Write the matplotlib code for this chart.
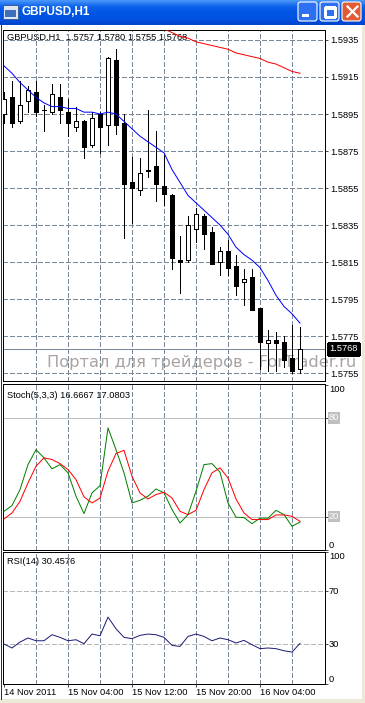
import numpy as np
import matplotlib
matplotlib.use("Agg")
import matplotlib.pyplot as plt
from matplotlib.patches import Rectangle, FancyBboxPatch
from matplotlib.colors import LinearSegmentedColormap

# GBPUSD H1 bars, 14 Nov 2011 20:00 .. 16 Nov 2011 09:00
opens = [1.5895, 1.5904, 1.5891, 1.5902, 1.5907, 1.5897, 1.5896, 1.5904, 1.5896, 1.5888,
         1.5891, 1.5878, 1.5895, 1.5889, 1.5924, 1.5890, 1.5858, 1.5854, 1.5864, 1.5867,
         1.5856, 1.5851, 1.5816, 1.5816, 1.5833, 1.5840, 1.5831, 1.5815, 1.5821, 1.5813,
         1.5804, 1.5807, 1.5790, 1.5771, 1.5773, 1.5772, 1.5763, 1.5757]
highs = [1.5907, 1.5913, 1.5913, 1.5910, 1.5913, 1.5900, 1.5911, 1.5911, 1.5903, 1.5899,
         1.5892, 1.5896, 1.5896, 1.5926, 1.5930, 1.5895, 1.5872, 1.5871, 1.5897, 1.5886,
         1.5873, 1.5852, 1.5829, 1.5840, 1.5844, 1.5841, 1.5834, 1.5823, 1.5827, 1.5819,
         1.5811, 1.5811, 1.5790, 1.5778, 1.5777, 1.5775, 1.5781, 1.5780]
lows = [1.5890, 1.5888, 1.5890, 1.5896, 1.5894, 1.5886, 1.5895, 1.5890, 1.5883, 1.5886,
        1.5871, 1.5877, 1.5874, 1.5878, 1.5884, 1.5828, 1.5836, 1.5851, 1.5861, 1.5848,
        1.5846, 1.5811, 1.5798, 1.5815, 1.5826, 1.5822, 1.5814, 1.5808, 1.5808, 1.5797,
        1.5792, 1.5789, 1.5757, 1.5756, 1.5756, 1.5758, 1.5755, 1.5755]
closes = [1.5903, 1.5890, 1.5900, 1.5908, 1.5896, 1.5897, 1.5906, 1.5897, 1.5890, 1.5891,
          1.5877, 1.5893, 1.5888, 1.5925, 1.5889, 1.5857, 1.5855, 1.5863, 1.5865, 1.5857,
          1.5852, 1.5817, 1.5815, 1.5835, 1.5841, 1.5830, 1.5814, 1.5821, 1.5812, 1.5802,
          1.5806, 1.5789, 1.5772, 1.5773, 1.5771, 1.5762, 1.5756, 1.5768]

ma_fast = [1.5921, 1.5917, 1.5912, 1.5908, 1.5904, 1.5901, 1.5899, 1.5899, 1.5898, 1.5898,
           1.5896, 1.5896, 1.5895, 1.5896, 1.5895, 1.5891, 1.5887, 1.5883, 1.5880, 1.5877,
           1.5874, 1.5865, 1.5858, 1.5851, 1.5847, 1.5843, 1.5839, 1.5835, 1.5830, 1.5823,
           1.5819, 1.5816, 1.5812, 1.5805, 1.5797, 1.5791, 1.5787, 1.5782]
ma_slow_start = 19
ma_slow = [1.5942, 1.5941, 1.5939, 1.5937, 1.5936, 1.5934, 1.5933, 1.5932, 1.5931, 1.5930,
           1.5928, 1.5927, 1.5926, 1.5925, 1.5923, 1.5922, 1.5920, 1.5918, 1.5917]

stoch_main = [23.2, 26.7, 36.4, 51.6, 60.7, 55.7, 49.0, 51.6, 46.6, 32.4,
              21.8, 34.4, 38.8, 73.9, 60.7, 46.6, 28.3, 29.9, 32.4, 36.8,
              34.4, 24.3, 16.1, 21.2, 35.4, 51.6, 52.2, 47.0, 28.3, 19.6,
              19.4, 15.7, 19.1, 19.0, 23.8, 21.2, 14.1, 16.7]
stoch_signal = [18.6, 22.2, 29.3, 40.5, 50.6, 55.7, 54.7, 52.2, 48.6, 42.5,
                32.0, 28.3, 31.3, 47.6, 58.3, 60.3, 44.5, 34.4, 30.7, 33.4,
                34.8, 31.3, 23.2, 21.2, 23.8, 36.4, 46.6, 49.6, 43.5, 30.7,
                22.2, 18.2, 18.2, 18.2, 21.0, 21.0, 20.2, 17.1]
rsi = [30.0, 27.0, 31.5, 34.6, 32.5, 32.5, 37.1, 35.1, 32.5, 33.3,
       30.3, 37.6, 36.3, 50.5, 41.6, 35.1, 34.1, 36.6, 37.6, 37.1,
       35.1, 29.0, 28.2, 35.8, 37.6, 35.8, 32.5, 34.6, 33.3, 30.8,
       32.8, 29.5, 26.5, 27.0, 26.5, 24.9, 23.9, 30.5]

price_ticks = [1.5935, 1.5915, 1.5895, 1.5875, 1.5855, 1.5835, 1.5815, 1.5795, 1.5775, 1.5755]
date_bars = [0, 8, 16, 24, 32]
date_labels = ["14 Nov 2011", "15 Nov 04:00", "15 Nov 12:00", "15 Nov 20:00", "16 Nov 04:00"]
stoch_levels = [80, 20]
rsi_levels = [70, 30]

plt.rcParams["font.family"] = ["Liberation Sans", "DejaVu Sans"]
plt.rcParams["font.size"] = 6.7
plt.rcParams["lines.antialiased"] = False
plt.rcParams["patch.antialiased"] = False

W, H = 365, 703
fig = plt.figure(figsize=(W / 100, H / 100), dpi=100, facecolor="white")
grid_c = "#778899"
LW = 0.5                      # ~1 px, aliased like the terminal
PL = 0.72                     # indicator / MA lines (smoothed, thin)
dash = (0, (5.8, 3))


def box(x0, y0, x1, y1):
    # pixel box, origin top-left
    return [x0 / W, 1 - y1 / H, (x1 - x0) / W, (y1 - y0) / H]


# window chrome + watermark, drawn underneath everything in pixel coords
bg = fig.add_axes([0, 0, 1, 1], zorder=-1)
grad = np.linspace(0, 1, 50).reshape(-1, 1)
xp = LinearSegmentedColormap.from_list("xp", ["#4B98FA", "#0E63EB", "#0056E6", "#0052E0", "#0043CC"])
bg.imshow(grad, extent=[0, W, 25, 0], aspect="auto", cmap=xp, interpolation="bilinear")
bg.set_xlim(0, W)
bg.set_ylim(H, 0)
bg.axis("off")

bg.add_patch(Rectangle((3, 5), 15, 14, fc="#DCE6F4", ec="#3A5F9A", lw=LW))
bg.add_patch(Rectangle((5, 10), 11, 7, fc="#3F6FB8", ec="none"))
bg.text(22, 12, "GBPUSD,H1", color="white", fontsize=8.5, fontweight="bold", va="center")

for bx, fc in [(298, "#2E70F2"), (320, "#2E70F2"), (342, "#E35B35")]:
    bg.add_patch(FancyBboxPatch((bx, 2), 19, 19, boxstyle="round,pad=0,rounding_size=2.5",
                                fc=fc, ec="white", lw=0.8, antialiased=True))
bg.add_patch(Rectangle((302, 14), 7, 3, fc="white", ec="none"))
bg.add_patch(Rectangle((325, 7), 10, 10, fc="none", ec="white", lw=0.8))
bg.add_patch(Rectangle((325, 7), 10, 2.5, fc="white", ec="none"))
bg.plot([347.5, 357.5], [6.5, 16.5], color="white", lw=1.6, antialiased=True)
bg.plot([357.5, 347.5], [6.5, 16.5], color="white", lw=1.6, antialiased=True)

bg.add_patch(Rectangle((362, 25), 3, H - 25, fc="#ECE9D8", ec="none"))
bg.add_patch(Rectangle((0, 699), W, 4, fc="#ECE9D8", ec="none"))
bg.plot([1, 1], [25, 699], color="#303030", lw=LW)

bg.text(7, 37, "GBPUSD,H1  %.4f %.4f %.4f %.4f" % (opens[-1], highs[-1], lows[-1], closes[-1]),
        va="center", color="black")
bg.text(7, 395, "Stoch(5,3,3) 16.6667 17.0803", va="center", color="black")
bg.text(7, 562, "RSI(14) 30.4576", va="center", color="black")
bg.text(47, 362, "Портал для трейдеров - ForTrader.ru", fontsize=11.7, color="#ABA2A2",
        va="center", family=["DejaVu Sans"])

main = fig.add_axes(box(3, 30, 325, 381))
stoch = fig.add_axes(box(3, 384, 325, 549.5))
osc = fig.add_axes(box(3, 552, 325, 683.5))

x = np.arange(len(opens))
for ax in (main, stoch, osc):
    ax.set_facecolor("none")
    ax.set_xlim(-0.125, 40.125)
    for s in ax.spines.values():
        s.set_linewidth(LW)
        s.set_color("black")
    for k in range(4, 40, 4):
        ax.axvline(k, color=grid_c, lw=LW, ls=dash, zorder=0.5)
    ax.yaxis.tick_right()
    ax.tick_params(axis="y", length=2.2, width=LW, pad=1.4)
    ax.set_xticks([])

# price panel
main.set_ylim(1.57507, 1.59404)
main.set_yticks(price_ticks)
main.set_yticklabels(["%.4f" % p for p in price_ticks])
for p in price_ticks:
    main.axhline(p, color=grid_c, lw=LW, ls=dash, zorder=0.5)
main.axhline(closes[-1], color=grid_c, lw=LW, zorder=0.6)

o = np.array(opens)
c = np.array(closes)
main.vlines(x, lows, highs, color="black", lw=LW, zorder=2)
body_lo = np.minimum(o, c)
body_h = np.abs(c - o)
faces = ["white" if cc > oo else "black" for oo, cc in zip(o, c)]
main.bar(x, body_h, bottom=body_lo, width=0.5, color=faces, edgecolor="black", lw=LW, zorder=3)

main.plot(x, ma_fast, color="#0000FF", lw=PL, zorder=4, antialiased=True)
main.plot(np.arange(ma_slow_start, ma_slow_start + len(ma_slow)), ma_slow, color="#FF0000",
          lw=PL, zorder=4, antialiased=True)

lab_x = 1.0124
main.text(lab_x, closes[-1], "%.4f" % closes[-1], transform=main.get_yaxis_transform(),
          ha="left", va="center", color="white", clip_on=False,
          bbox=dict(boxstyle="square,pad=0.15", fc="black", ec="black"))

# stochastic
stoch.set_ylim(0, 100.6)
stoch.set_yticks([100, 80, 20, 0])
stoch.set_yticklabels([])
for lv in stoch_levels:
    stoch.axhline(lv, color="#C0C0C0", lw=LW, zorder=0.6)
    stoch.text(lab_x, lv, str(lv), transform=stoch.get_yaxis_transform(), ha="left", va="center",
               color="white", bbox=dict(boxstyle="square,pad=0.12", fc="#C0C0C0", ec="none"))
stoch.text(lab_x, 100, "100", transform=stoch.get_yaxis_transform(), ha="left", va="top")
stoch.text(lab_x, 0, "0", transform=stoch.get_yaxis_transform(), ha="left", va="bottom")
stoch.plot(x, stoch_main, color="#008000", lw=PL, zorder=3, antialiased=True)
stoch.plot(x, stoch_signal, color="#FF0000", lw=PL, zorder=3, antialiased=True)

# RSI
osc.set_ylim(0, 100)
osc.set_yticks([100, 70, 30, 0])
osc.set_yticklabels([])
for lv in rsi_levels:
    osc.axhline(lv, color="#B8B8B8", lw=LW, ls=dash, zorder=0.6)
    osc.text(lab_x, lv, str(lv), transform=osc.get_yaxis_transform(), ha="left", va="center")
osc.text(lab_x, 100, "100", transform=osc.get_yaxis_transform(), ha="left", va="top")
osc.text(lab_x, 0, "0", transform=osc.get_yaxis_transform(), ha="left", va="bottom")
osc.plot(x, rsi, color="#1E1E78", lw=PL, zorder=3, antialiased=True)

osc.set_xticks(date_bars)
osc.set_xticklabels(date_labels, ha="left")
osc.tick_params(axis="x", length=2.2, width=LW, pad=1.2)

fig.savefig("out.png", dpi=100, facecolor=fig.get_facecolor())
